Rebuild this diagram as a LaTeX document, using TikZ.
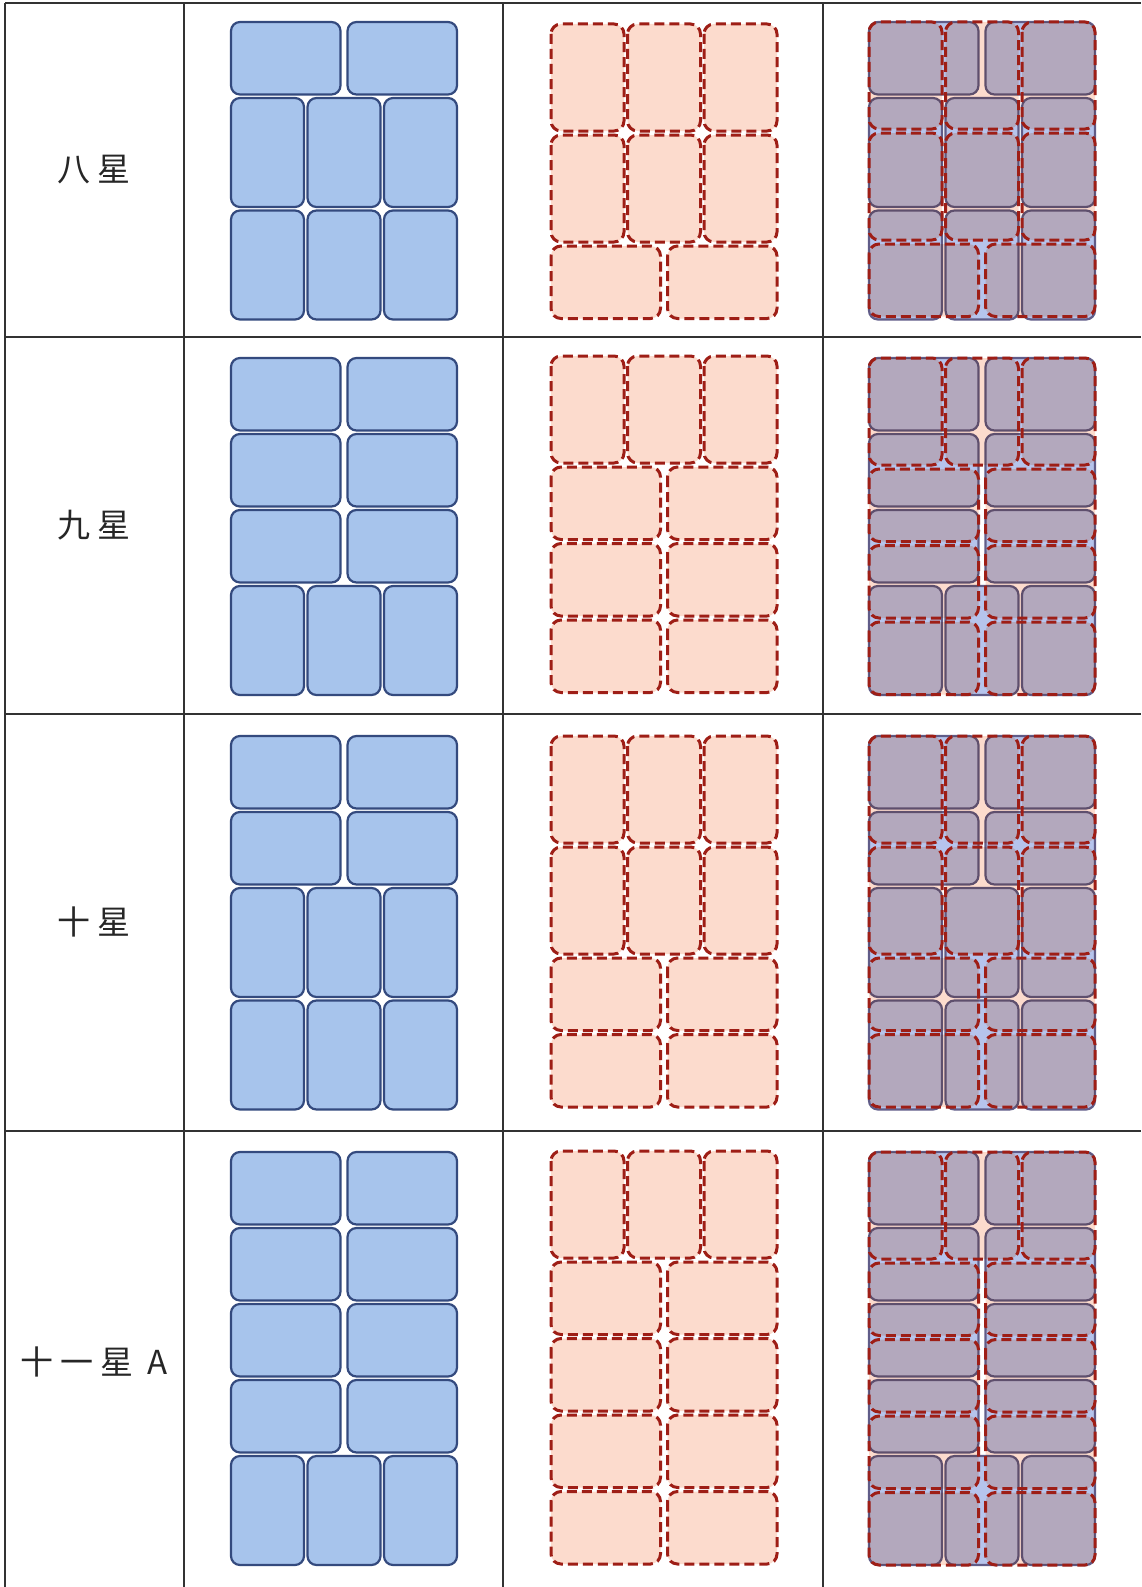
\documentclass[tikz,border=0pt]{standalone}
\usepackage{fontspec}
\usepackage{xcolor}
\usepackage{tikz}
\newfontfamily\cjk{Noto Sans CJK SC}[LetterSpace=20]
\definecolor{cardblue}{RGB}{167,196,236}
\definecolor{cardblueline}{RGB}{52,74,126}
\definecolor{mixblue}{RGB}{182,196,236}
\definecolor{mixblueline}{RGB}{96,92,136}
\definecolor{cardpink}{RGB}{252,219,205}
\definecolor{cardred}{RGB}{158,30,22}
\definecolor{gridgrey}{RGB}{50,50,50}

\tikzset{
  bluecard/.style={fill=cardblue,draw=cardblueline,line width=2.2pt,rounded corners=9pt},
  mixcard/.style={bluecard,fill=mixblue,draw=mixblueline},
  pinkfill/.style={fill=cardpink,rounded corners=10pt},
  pinkedge/.style={draw=cardred,line width=3pt,
                   dash pattern=on 10pt off 5pt,rounded corners=10pt},
  pinkcard/.style={pinkfill,pinkedge},
  gridline/.style={draw=gridgrey,line width=1.4pt},
  rowlabel/.style={font=\cjk\fontsize{33}{40}\selectfont,text=black!85}
}

% one stack of cards: x, top, style, row gap, rows as count/height
\newcommand{\cardstack}[5]{%
  \xdef\ycur{#2}%
  \foreach \ncard/\hrow in {#5}{
    \pgfmathsetmacro\cardw{\ncard==2 ? 109.5 : 73}
    \pgfmathsetmacro\cardstep{\ncard==2 ? 116.5 : 76.5}
    \foreach \k in {1,...,\ncard}
      \path[#3] ({#1+(\k-1)*\cardstep},\ycur) rectangle ++(\cardw,\hrow);
    \pgfmathsetmacro\ynext{\ycur+\hrow+#4}
    \xdef\ycur{\ynext}
  }%
}

% one table row: name, label y, label, blue top, pink top, blue rows, pink rows
\newcommand{\layoutrow}[7]{%
  \node[rowlabel] (#1) at (94,#2) {#3};
  \cardstack{231}{#4}{bluecard}{3.5}{#6}
  \cardstack{551}{#5}{pinkcard}{4}{#7}
  \cardstack{869}{#4}{mixcard}{3.5}{#6}
  \begin{scope}[blend mode=multiply]
    \cardstack{869}{#4}{pinkfill}{4}{#7}
  \end{scope}
  \cardstack{869}{#4}{pinkedge}{4}{#7}
}

\begin{document}
\begin{tikzpicture}[x=1pt,y=-1pt]
  \useasboundingbox (0,0) rectangle (1141,1587);
  \fill[white] (0,0) rectangle (1141,1587);

  % table
  \foreach \yy in {3,337,714,1131}
    \draw[gridline] (5,\yy) -- (1141,\yy);
  \foreach \xx in {5,184,503,823}
    \draw[gridline] (\xx,3) -- (\xx,1587);

  % rows
  \layoutrow{eight}{170}{八星}{22}{24}
    {2/72.5,3/109,3/109}{3/107,3/107,2/72.5}
  \layoutrow{nine}{525}{九星}{358}{356}
    {2/72.5,2/72.5,2/72.5,3/109}{3/107,2/72.5,2/72.5,2/72.5}
  \layoutrow{ten}{922}{十星}{736}{736}
    {2/72.5,2/72.5,3/109,3/109}{3/107,3/107,2/72.5,2/72.5}
  \layoutrow{eleven}{1362}{十一星 A}{1152}{1151}
    {2/72.5,2/72.5,2/72.5,2/72.5,3/109}{3/107,2/72.5,2/72.5,2/72.5,2/72.5}
\end{tikzpicture}
\end{document}
